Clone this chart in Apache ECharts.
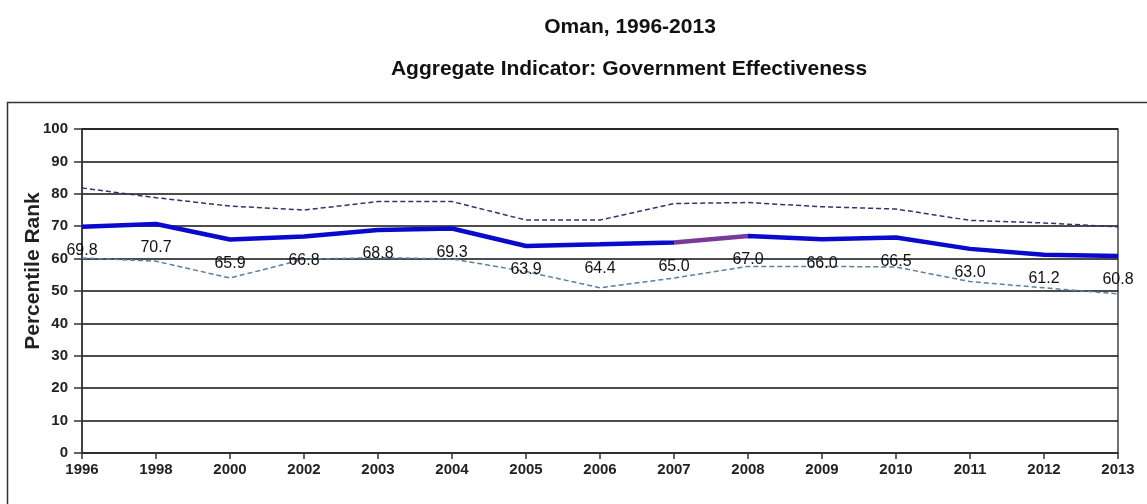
<!DOCTYPE html>
<html>
<head>
<meta charset="utf-8">
<script src="https://cdn.jsdelivr.net/npm/echarts@6/dist/echarts.min.js"></script>
<style>html,body{margin:0;padding:0;background:#fff}#c{width:1147px;height:504px}</style>
</head>
<body>
<div id="c"></div>
<script>
const years = ['1996','1998','2000','2002','2003','2004','2005','2006','2007','2008','2009','2010','2011','2012','2013'];
const rank = [69.8,70.7,65.9,66.8,68.8,69.3,63.9,64.4,65.0,67.0,66.0,66.5,63.0,61.2,60.8];
const upper = [81.8,78.8,76.2,75.0,77.6,77.6,71.9,71.9,77.0,77.3,76.0,75.3,71.8,71.0,69.8];
const lower = [60.2,59.2,54.0,59.8,60.3,59.9,56.0,51.0,54.0,57.6,57.6,57.4,52.9,51.0,49.1];
const yTicks = [0,10,20,30,40,50,60,70,80,90,100];

const chart = echarts.init(document.getElementById('c'), null, {renderer:'canvas'});
const font = 'Liberation Sans, Arial, sans-serif';
chart.setOption({
  animation:false,
  backgroundColor:'#fff',
  title:[
    {text:'Oman, 1996-2013', left:625, top:12, textAlign:'center',
     textStyle:{fontFamily:font, fontSize:21, fontWeight:'bold', color:'#111'}},
    {text:'Aggregate Indicator: Government Effectiveness', left:624, top:54, textAlign:'center',
     textStyle:{fontFamily:font, fontSize:21, fontWeight:'bold', color:'#111'}}
  ],
  graphic:[{type:'rect', shape:{x:7.5, y:102.5, width:1300, height:500},
    style:{fill:'none', stroke:'#333', lineWidth:1.5}, silent:true}],
  grid:{left:82, right:29, top:129, bottom:51, show:true, borderColor:'#444', borderWidth:1.5, backgroundColor:'transparent'},
  visualMap:{show:false, type:'piecewise', seriesIndex:2, dimension:0,
    pieces:[{lt:8, color:'#0a0acc'},{gte:8, lt:9, color:'#7a3a9a'},{gte:9, color:'#0a0acc'}]},
  xAxis:{type:'category', data:years, boundaryGap:false,
    axisLine:{lineStyle:{color:'#333', width:1.5}},
    axisTick:{show:true, alignWithLabel:true, length:6, lineStyle:{color:'#333', width:1.5}},
    axisLabel:{margin:9, fontFamily:font, fontSize:15, fontWeight:'bold', color:'#222', interval:0},
    splitLine:{show:false}},
  yAxis:{type:'value', min:0, max:100, interval:10,
    name:'Percentile Rank', nameLocation:'middle', nameGap:38, nameMoveOverlap:false,
    nameTextStyle:{fontFamily:font, fontSize:21, fontWeight:'bold', color:'#222', padding:[0,0,0,40]},
    axisLine:{show:true, lineStyle:{color:'#333', width:1.5}},
    axisTick:{show:true, inside:false, length:8, lineStyle:{color:'#333', width:1.5}},
    axisLabel:{margin:14, fontFamily:font, fontSize:15, fontWeight:'bold', color:'#222',
      formatter:v => yTicks.includes(v) ? String(v) : ''},
    splitLine:{show:true, lineStyle:{color:'#111', width:1.5}}},
  series:[
    {name:'upper', type:'line', data:upper, symbol:'none', z:2,
     lineStyle:{color:'#33336a', width:1.5, type:[5,3]}},
    {name:'lower', type:'line', data:lower, symbol:'none', z:2,
     lineStyle:{color:'#5c7fa0', width:1.5, type:[5,3]}},
    {name:'rank', type:'line', data:rank, symbol:'circle', symbolSize:0, showSymbol:true, z:3,
     lineStyle:{width:4.5},
     labelLayout:{hideOverlap:false},
     label:{show:true, position:'bottom', distance:16, fontFamily:font, fontSize:16, color:'#111',
       formatter:p => p.value.toFixed(1)}}
  ]
});
</script>
</body>
</html>
